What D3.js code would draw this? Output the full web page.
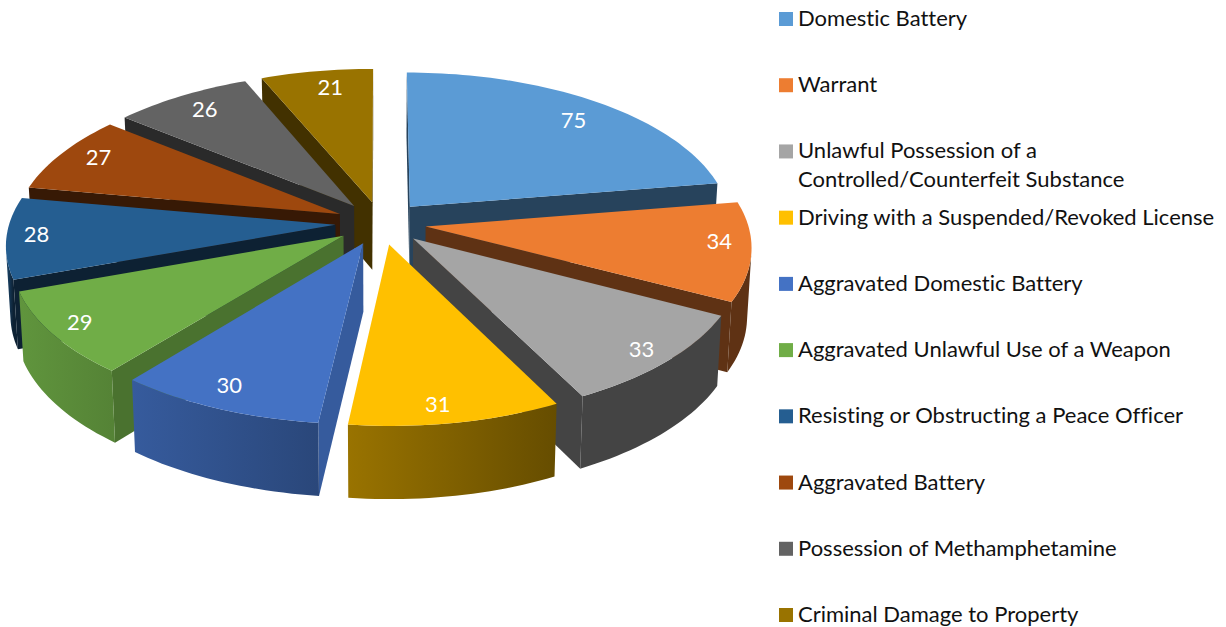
<!DOCTYPE html>
<html><head><meta charset="utf-8">
<script src="https://cdn.jsdelivr.net/npm/d3@7/dist/d3.min.js"></script>
<style>html,body{margin:0;background:#fff}svg{display:block}text{font-family:Lato,"Open Sans",sans-serif;font-variant-ligatures:none}</style>
</head><body><svg id="c" width="1226" height="627"></svg>
<script>
const categories = ["Domestic Battery","Warrant","Unlawful Possession of a|Controlled/Counterfeit Substance","Driving with a Suspended/Revoked License","Aggravated Domestic Battery","Aggravated Unlawful Use of a Weapon","Resisting or Obstructing a Peace Officer","Aggravated Battery","Possession of Methamphetamine","Criminal Damage to Property"];
const values = [75,34,33,31,30,29,28,27,26,21];
const colors = ["#5B9BD5","#ED7D31","#A5A5A5","#FFC000","#4472C4","#70AD47","#255E91","#9E480E","#636363","#997300"];
const sideShade = [.43,.4,.41,.42,.8,.66,.35,.35,.42,.43];
const outerLeft = [.6,.4,.41,.6,.8,.86,.75,.6,.6,.6];
const outerRight = [.43,.4,.41,.4,.62,.76,.35,.35,.42,.43];
const depthOrder = [9,0,8,1,7,6,2,5,4,3];
const labelReach = [.85,.9,.87,.87,.87,.87,.87,.87,.87,.87];
const labelNudge = [[3,3],[1,-9],[10,5],[-9,7],[-9,0],[-13,1],[-13,-3],[2,-4],[3,-1],[7,0]];

const R=322, Rleft=326, Ry=154, p=.12, cx=381, cy=223, explode=.14, H=68, converge=.988;
const proj=(X,Y,low)=>{const k=1/(1-p*Y);const c=low?converge:1;return [cx+X*(X<0?Rleft:R)*k*c, cy+Y*Ry*k+(low?H*Math.sqrt(k):0)];};
const arcs=d3.pie().sort(null)(values);
const svg=d3.select("#c"), defs=svg.append("defs"), line=d3.line();
const shade=(col,f)=>{const c=d3.rgb(col);return d3.rgb(c.r*f,c.g*f,c.b*f).formatHex();};

function pts(d){
  const m=(d.startAngle+d.endAngle)/2, ox=Math.sin(m)*explode, oy=-Math.cos(m)*explode;
  const n=Math.max(8,Math.ceil((d.endAngle-d.startAngle)*40));
  const rim=d3.range(n+1).map(i=>{const a=d.startAngle+(d.endAngle-d.startAngle)*i/n;return [ox+Math.sin(a),oy-Math.cos(a)];});
  return {apex:[ox,oy],rim,m,ox,oy};
}
const P=(q,low)=>proj(q[0],q[1],low);
const quad=(a,b)=>[P(a),P(b),P(b,true),P(a,true)];
const visible=q=>d3.polygonArea(q)>0;

depthOrder.forEach(i=>{
  const d=arcs[i], g=svg.append("g"), s=pts(d), col=colors[i];
  const side=shade(col,sideShade[i]);
  const wallA=quad(s.apex,s.rim[0]), wallB=quad(s.rim[s.rim.length-1],s.apex);
  [wallA,wallB].filter(visible).forEach(q=>g.append("path").attr("d",line(q)+"Z").attr("fill",side));
  const segs=d3.pairs(s.rim).filter(([a,b])=>visible(quad(a,b)));
  if(segs.length){
    const top=segs.map(x=>P(x[0])).concat([P(segs[segs.length-1][1])]);
    const bot=segs.map(x=>P(x[0],true)).concat([P(segs[segs.length-1][1],true)]).reverse();
    const xs=top.map(q=>q[0]), id="w"+i;
    const gr=defs.append("linearGradient").attr("id",id).attr("gradientUnits","userSpaceOnUse")
      .attr("x1",d3.min(xs)).attr("x2",d3.max(xs)).attr("y1",0).attr("y2",0);
    gr.append("stop").attr("offset",0).attr("stop-color",shade(col,outerLeft[i]));
    gr.append("stop").attr("offset",1).attr("stop-color",shade(col,outerRight[i]));
    g.append("path").attr("d",line(top.concat(bot))+"Z").attr("fill",`url(#${id})`);
  }
  g.append("path").attr("d",line([P(s.apex)].concat(s.rim.map(q=>P(q))))+"Z").attr("fill",col);
});

arcs.forEach((d,i)=>{
  const s=pts(d), f=labelReach[i];
  const q=proj(s.ox+Math.sin(s.m)*f, s.oy-Math.cos(s.m)*f);
  svg.append("text").attr("x",q[0]+labelNudge[i][0]).attr("y",q[1]+labelNudge[i][1]).attr("text-anchor","middle").attr("dominant-baseline","central")
    .attr("font-size",22).attr("fill","#fff").text(values[i]);
});

const ly=d3.scalePoint().domain(categories).range([19,615]);
const lg=svg.append("g");
categories.forEach((c,i)=>{
  const y=ly(c);
  lg.append("rect").attr("x",779).attr("y",y-7).attr("width",14).attr("height",14).attr("fill",colors[i]);
  c.split("|").forEach((t,j)=>lg.append("text").attr("x",798).attr("y",y+7+j*28.5).attr("font-size",22).attr("fill","#111").text(t));
});
</script></body></html>
